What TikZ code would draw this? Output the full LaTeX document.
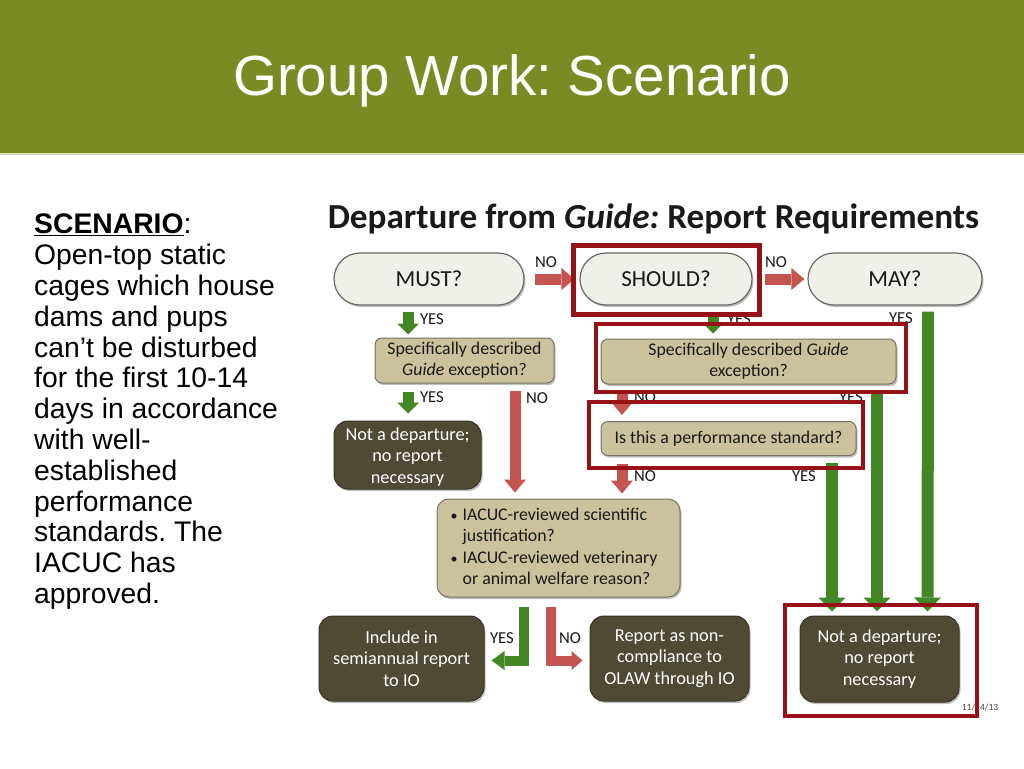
\documentclass[tikz,border=0pt]{standalone}
\usepackage{fontspec}
\setmainfont{Carlito}
\newfontfamily\arialfont{Liberation Sans}
\usetikzlibrary{arrows.meta,calc,shadows}
\definecolor{band}{RGB}{123,139,35}
\definecolor{bandline}{RGB}{214,220,180}
\definecolor{pillfill}{RGB}{240,240,235}
\definecolor{pilldraw}{RGB}{105,105,100}
\definecolor{khaki}{RGB}{201,194,156}
\definecolor{khakidraw}{RGB}{118,116,98}
\definecolor{darkfill}{RGB}{79,74,52}
\definecolor{darkdraw}{RGB}{55,52,36}
\definecolor{arrowred}{RGB}{196,84,80}
\definecolor{arrowgreen}{RGB}{66,134,38}
\definecolor{hired}{RGB}{150,18,22}
\definecolor{txt}{RGB}{25,25,25}
\frenchspacing
\begin{document}
\begin{tikzpicture}[x=1pt,y=-1pt,
  shad/.style={drop shadow={shadow xshift=1.5pt,shadow yshift=-2pt,fill=black,opacity=0.25}},
  pill/.style={shad,draw=pilldraw,line width=1.2pt,fill=pillfill,rounded corners=26pt,
    minimum height=52pt,inner sep=0pt,text=txt,font=\fontsize{23}{27}\selectfont},
  khakibox/.style={shad,draw=khakidraw,line width=1pt,fill=khaki,rounded corners=7pt,
    inner sep=0pt,align=center,text=txt,font=\fontsize{17.8}{21}\selectfont},
  darkbox/.style={shad,draw=darkdraw,line width=1pt,fill=darkfill,rounded corners=14pt,
    inner sep=0pt,align=center,text=white,font=\fontsize{18.3}{21.5}\selectfont},
  hirect/.style={draw=hired,line width=4.5pt},
  yn/.style={inner sep=0pt,text=txt,font=\fontsize{16.7}{18}\selectfont},
  redarr/.style={draw=arrowred,line width=11pt,-{Triangle[width=22pt,length=13pt,line width=0pt]}},
  greenarr/.style={draw=arrowgreen,line width=11pt,-{Triangle[width=22pt,length=11pt,line width=0pt]}},
  longgreen/.style={draw=arrowgreen,line width=12pt,-{Triangle[width=27pt,length=14pt,line width=0pt]}},
  elbowgreen/.style={draw=arrowgreen,line width=10pt,-{Triangle[width=19pt,length=13pt,line width=0pt]}},
  elbowred/.style={draw=arrowred,line width=10pt,-{Triangle[width=19pt,length=11pt,line width=0pt]}}
]
\useasboundingbox (0,0) rectangle (1024,768);
\fill[white] (0,0) rectangle (1024,768);
\fill[band] (0,0) rectangle (1024,153);
\draw[bandline,line width=2pt] (0,154) -- (1024,154);
\node[anchor=base,inner sep=0pt,text=white,font=\arialfont\fontsize{56.5}{60}\selectfont] (title) at (512,95) {Group Work: Scenario};

% scenario text
\node[anchor=north west,inner sep=0pt,align=left,text=black,font=\arialfont\fontsize{28.3}{30.8}\selectfont] (scen) at (34,214)
 {\underline{\textbf{SCENARIO}}:\\Open-top static\\cages which house\\dams and pups\\can’t be disturbed\\for the first 10-14\\days in accordance\\with well-\\established\\performance\\standards. The\\IACUC has\\approved.};

% heading
\node[anchor=base,inner sep=0pt,text=txt,font=\bfseries\fontsize{35.2}{38}\selectfont] (head) at (653.5,228)
 {Departure from \textit{Guide:} Report Requirements};

% nodes
\node[pill,minimum width=190pt] (must) at (429,279) {MUST?};
\node[pill,minimum width=172pt] (should) at (666,279) {SHOULD?};
\node[pill,minimum width=174pt] (may) at (895,279) {MAY?};
\node[khakibox,minimum width=179pt,minimum height=45pt] (lq) at (464.5,360.5) {Specifically described\\\textit{Guide} exception?};
\node[khakibox,minimum width=295pt,minimum height=45pt] (rq) at (748.5,361.5) {Specifically described \textit{Guide}\\exception?};
\node[khakibox,minimum width=255pt,minimum height=34pt] (perf) at (728.5,438.5) {Is this a performance standard?};
\node[darkbox,minimum width=147pt,minimum height=68pt] (ndl) at (407.5,455) {\rule{0pt}{16pt}Not a departure;\\no report\\necessary};
\node[khakibox,rounded corners=12pt,minimum width=243pt,minimum height=98pt,font=\fontsize{17.8}{21.5}\selectfont] (iacuc) at (558.5,548)
 {\raisebox{-2.5pt}{\begin{tabular}{@{}l@{\hspace{5pt}}l@{}}{\fontsize{14}{14}\selectfont\textbullet} & IACUC-reviewed scientific\\ & justification?\\{\fontsize{14}{14}\selectfont\textbullet} & IACUC-reviewed veterinary\\ & or animal welfare reason?\end{tabular}}\hspace{9pt}};
\node[darkbox,minimum width=165pt,minimum height=85pt] (include) at (401.5,658.5) {Include in\\semiannual report\\to IO};
\node[darkbox,minimum width=159pt,minimum height=85pt] (report) at (669.5,658.5) {Report as non-\\compliance to\\OLAW through IO};
\node[darkbox,minimum width=159pt,minimum height=86pt] (final) at (879.5,659) {Not a departure;\\no report\\necessary};

% connectors
\draw[redarr] ($(must.east)+(10,0)$) -- ($(should.west)+(-5,0)$);
\draw[redarr] ($(should.east)+(12,0)$) -- ($(may.west)+(-3,0)$);
\draw[greenarr] ($(must.south)+(-21,6)$) -- ($(lq.north)+(-56.5,-3)$);
\draw[greenarr] ($(should.south)+(47,6)$) -- ($(rq.north)+(-35.5,-5)$);
\draw[greenarr] ($(lq.south)+(-56.5,8)$) -- ($(ndl.north)+(0.5,-7)$);
\draw[redarr] ($(lq.south)+(50.5,7)$) -- ($(iacuc.north)+(-43.5,-6)$);
\draw[redarr] ($(rq.south)+(-126.5,6)$) -- ($(perf.north)+(-106.5,-6)$);
\draw[redarr] ($(perf.south)+(-106.5,8)$) -- ($(iacuc.north)+(63.5,-5)$);
\draw[longgreen] ($(perf.south)+(103.5,7)$) -- ($(final.north)+(-47.5,-4)$);
\draw[longgreen] ($(rq.south)+(128.5,6)$) -- ($(final.north)+(-2.5,-4)$);
\draw[longgreen] ($(may.south)+(33,6)$) -- ($(final.north)+(48,-4)$);
\draw[elbowgreen] ($(iacuc.south)+(-35,9)$) |- ($(include.east)+(7,2)$);
\draw[elbowred] ($(iacuc.south)+(-8,9)$) |- ($(report.west)+(-7,2)$);

% labels
\node[yn] (no1) at (546,262) {NO};
\node[yn] (no2) at (776,262) {NO};
\node[yn] (yes1) at (432,319) {YES};
\node[yn] (yes2) at (739,319) {YES};
\node[yn] (yes3) at (901,318) {YES};
\node[yn] (yes4) at (432,397) {YES};
\node[yn] (no3) at (537,398) {NO};
\node[yn] (no4) at (645,397) {NO};
\node[yn] (yes5) at (851,397) {YES};
\node[yn] (no5) at (645,476) {NO};
\node[yn] (yes6) at (804,476) {YES};
\node[yn] (yes7) at (502,638) {YES};
\node[yn] (no6) at (570,638) {NO};
\node[inner sep=0pt,text=black!75,font=\fontsize{9.5}{10}\selectfont] (date) at (980,707) {11/14/13};

% highlight rectangles
\draw[hirect] (573.5,245.5) rectangle (759.5,314.5);
\draw[hirect] (596,324) rectangle (906,392);
\draw[hirect] (589,402) rectangle (863,468);
\draw[hirect] (785,605) rectangle (977,716);
\end{tikzpicture}
\end{document}
